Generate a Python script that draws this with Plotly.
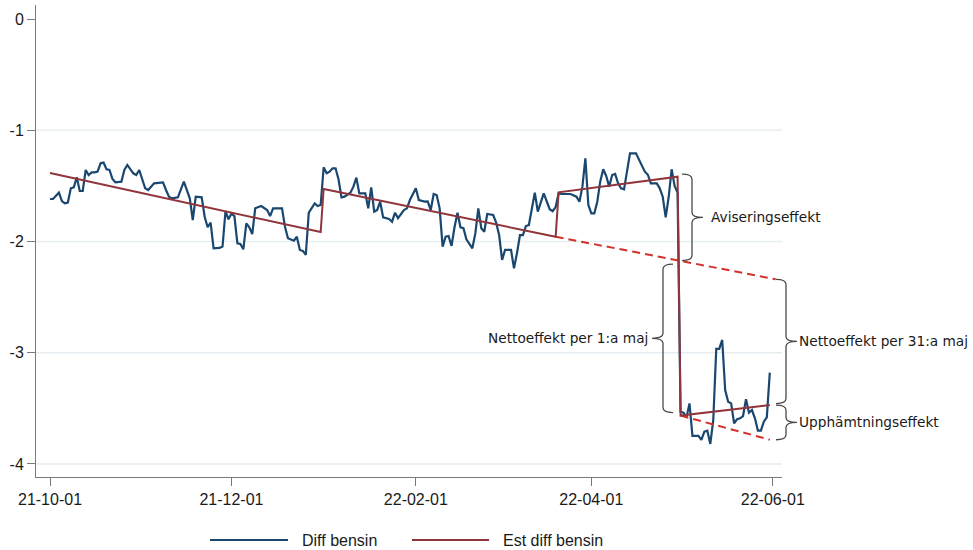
import plotly.graph_objects as go
import pandas as pd

# ---- data -----------------------------------------------------------------
START = "2021-10-01"

# Daily difference in petrol price, days counted from START
diff_day = [0, 1, 3, 4, 5, 6, 7, 8, 9, 10, 11, 12, 13, 14, 15, 16, 17, 18, 19, 20,
            21, 22, 24, 25, 26, 28, 29, 30, 32, 33, 35, 38, 39, 40, 41, 43, 45, 47, 48, 49,
            51, 52, 53, 54, 55, 57, 58, 59, 60, 61, 62, 63, 64, 65, 66, 67, 68, 69, 71, 73,
            74, 75, 78, 79, 80, 82, 83, 84, 85, 86, 87, 88, 89, 90, 91, 92, 93, 94, 95, 96,
            97, 98, 99, 101, 102, 103, 104, 106, 107, 108, 109, 110, 111, 112, 114, 115, 116, 117, 119, 120,
            121, 123, 124, 126, 127, 128, 129, 130, 131, 132, 133, 134, 135, 136, 137, 138, 139, 140, 142, 143,
            144, 145, 146, 147, 149, 150, 151, 152, 153, 155, 156, 157, 158, 159, 160, 161, 163, 164, 165, 166,
            168, 169, 170, 171, 172, 175, 177, 178, 179, 180, 181, 182, 183, 184, 185, 186, 187, 188, 189, 190,
            191, 192, 193, 194, 195, 197, 198, 200, 201, 202, 204, 205, 206, 207, 208, 209, 210, 211, 212, 213,
            214, 215, 216, 218, 219, 220, 221, 222, 223, 224, 225, 226, 227, 228, 229, 230, 231, 232, 233, 234,
            235, 236, 237, 238, 239, 240, 241, 242]
diff_bensin = [-1.618, -1.618, -1.561, -1.636, -1.657, -1.650, -1.522, -1.513, -1.423, -1.546,
               -1.546, -1.357, -1.402, -1.378, -1.378, -1.372, -1.297, -1.291, -1.351, -1.357,
               -1.438, -1.468, -1.462, -1.357, -1.312, -1.387, -1.402, -1.357, -1.522, -1.537,
               -1.477, -1.468, -1.537, -1.597, -1.612, -1.603, -1.462, -1.612, -1.807, -1.597,
               -1.603, -1.777, -1.872, -1.831, -2.061, -2.058, -2.045, -1.728, -1.800, -1.750,
               -1.771, -2.016, -2.022, -2.070, -1.837, -1.872, -1.933, -1.702, -1.681, -1.717,
               -1.771, -1.702, -1.702, -1.867, -1.971, -1.993, -1.957, -2.076, -2.085, -2.121,
               -1.741, -1.702, -1.657, -1.681, -1.672, -1.333, -1.387, -1.372, -1.342, -1.342,
               -1.441, -1.603, -1.597, -1.561, -1.507, -1.426, -1.567, -1.567, -1.702, -1.513,
               -1.732, -1.717, -1.642, -1.783, -1.797, -1.822, -1.741, -1.790, -1.717, -1.702,
               -1.627, -1.522, -1.627, -1.642, -1.640, -1.717, -1.573, -1.582, -1.702, -2.046,
               -1.957, -1.951, -2.040, -1.872, -1.741, -1.872, -1.880, -1.981, -2.061, -1.927,
               -1.702, -1.881, -1.912, -1.753, -1.762, -1.831, -1.942, -2.166, -2.076, -2.076,
               -2.241, -2.106, -1.942, -1.942, -1.861, -1.852, -1.561, -1.732, -1.657, -1.567,
               -1.710, -1.728, -1.690, -1.567, -1.573, -1.573, -1.597, -1.642, -1.507, -1.252,
               -1.672, -1.747, -1.747, -1.642, -1.460, -1.351, -1.411, -1.507, -1.402, -1.393,
               -1.477, -1.522, -1.531, -1.387, -1.207, -1.207, -1.267, -1.372, -1.400, -1.477,
               -1.477, -1.522, -1.597, -1.783, -1.600, -1.351, -1.500, -1.561, -3.530, -3.539,
               -3.581, -3.455, -3.748, -3.748, -3.784, -3.709, -3.700, -3.820, -3.604, -2.966,
               -2.966, -2.885, -3.335, -3.440, -3.455, -3.634, -3.598, -3.589, -3.569, -3.418,
               -3.539, -3.515, -3.589, -3.700, -3.700, -3.620, -3.581, -3.179]

# Estimated (piecewise linear) difference
est_day = [0, 91, 92, 170, 171, 211, 212, 242]
est_diff_bensin = [-1.384, -1.915, -1.528, -1.957, -1.558, -1.417, -3.565, -3.470]

# Counterfactual trend extensions (dashed)
trend_day = [170, 244]
trend_diff = [-1.957, -2.340]
trend2_day = [212, 242]
trend2_diff = [-3.565, -3.782]

x_tick_dates = ["2021-10-01", "2021-12-01", "2022-02-01", "2022-04-01", "2022-06-01"]
x_tick_text = ["21-10-01", "21-12-01", "22-02-01", "22-04-01", "22-06-01"]
y_tick_vals = [0, -1, -2, -3, -4]
y_tick_text = ["0", "-1", "-2", "-3", "-4"]

label_avisering = "Aviseringseffekt"
label_netto1 = "Nettoeffekt per 1:a maj"
label_netto31 = "Nettoeffekt per 31:a maj"
label_upph = "Upphämtningseffekt"
legend_names = ["Diff bensin", "Est diff bensin"]

# ---- styling ----------------------------------------------------------------
BLUE = "#1a476f"
MAROON = "#90353b"
RED = "#d3312b"
GRID = "#e6eef1"
AXIS = "#7a7a7a"
TEXT = "#1a1a1a"
BRACE = "#4a4a4a"

W, H = 973, 550
M_L, M_R, M_T, M_B = 36, 191, 5, 73
PW, PH = W - M_L - M_R, H - M_T - M_B
Y_MIN, Y_MAX = -4.117, 0.126
X_RANGE = ["2021-09-26 07:00", "2022-06-04 02:30"]

start = pd.Timestamp(START)


def to_dates(days):
    return [start + pd.Timedelta(days=d) for d in days]


def px_x(px):
    """Horizontal pixel -> paper coordinate."""
    return (px - M_L) / PW


def val_y(v, dpx=0.0):
    """Data value -> paper coordinate, optionally nudged by dpx pixels (down is +)."""
    return (v - Y_MIN) / (Y_MAX - Y_MIN) - dpx / PH


def lerp(d, d0, d1, v0, v1):
    return v0 + (v1 - v0) * (d - d0) / (d1 - d0)


fig = go.Figure()

fig.add_trace(go.Scatter(x=to_dates(diff_day), y=diff_bensin, mode="lines",
                         line=dict(color=BLUE, width=2.2), name=legend_names[0],
                         showlegend=False))
fig.add_trace(go.Scatter(x=to_dates(trend_day), y=trend_diff, mode="lines",
                         line=dict(color=RED, width=2, dash="8px,5px"),
                         showlegend=False, hoverinfo="skip"))
fig.add_trace(go.Scatter(x=to_dates(trend2_day), y=trend2_diff, mode="lines",
                         line=dict(color=RED, width=2, dash="8px,5px"),
                         showlegend=False, hoverinfo="skip"))
fig.add_trace(go.Scatter(x=to_dates(est_day), y=est_diff_bensin, mode="lines",
                         line=dict(color=MAROON, width=2), name=legend_names[1],
                         showlegend=False))

shapes = []
# horizontal grid lines
for v in y_tick_vals[1:]:
    shapes.append(dict(type="line", xref="paper", yref="paper", x0=0, x1=1,
                       y0=val_y(v), y1=val_y(v), layer="below",
                       line=dict(color=GRID, width=1.3)))


def brace(xv_px, v_top, v_bot, facing, gap_top=0.0, gap_bot=0.0, hook=10, tip=11):
    """Curly bracket between two values; facing=+1 points right, -1 points left."""
    yt = val_y(v_top, gap_top)
    yb = val_y(v_bot, -gap_bot)
    ym = (yt + yb) / 2
    r = 5 / PH
    xv = px_x(xv_px)
    xh = px_x(xv_px - facing * hook)
    xt = px_x(xv_px + facing * tip)
    path = (f"M{xh},{yt} Q{xv},{yt} {xv},{yt - r} L{xv},{ym + r} "
            f"Q{xv},{ym} {xt},{ym} Q{xv},{ym} {xv},{ym - r} "
            f"L{xv},{yb + r} Q{xv},{yb} {xh},{yb}")
    shapes.append(dict(type="path", xref="paper", yref="paper", path=path,
                       line=dict(color=BRACE, width=1.3)))
    return ym


# values the brackets span
drop_day = (est_day[5] + est_day[6]) / 2
trend_at_drop = lerp(drop_day, trend_day[0], trend_day[1], trend_diff[0], trend_diff[1])
pre_cut = est_diff_bensin[5]
post_cut = est_diff_bensin[6]
est_end = est_diff_bensin[-1]
trend_end = trend_diff[-1]
trend2_end = trend2_diff[-1]

ym1 = brace(692, pre_cut, trend_at_drop, +1, gap_top=-2.5)
ym2 = brace(663, trend_at_drop, post_cut, -1, gap_top=3.5, gap_bot=3)
ym3 = brace(786, trend_end, est_end, +1, gap_bot=1.5)
ym4 = brace(786, est_end, trend2_end, +1)

annotations = [
    dict(text=label_avisering, x=px_x(709), y=ym1, xanchor="left"),
    dict(text=label_netto1, x=px_x(650), y=ym2, xanchor="right"),
    dict(text=label_netto31, x=px_x(797), y=ym3, xanchor="left"),
    dict(text=label_upph, x=px_x(797), y=ym4, xanchor="left"),
]
for a in annotations:
    a.update(xref="paper", yref="paper", yanchor="middle", showarrow=False,
             font=dict(family="DejaVu Sans", size=13.7, color=TEXT))

# legend drawn below the plot area
leg_y = (M_T + PH - 540) / PH
for (x0, x1, tx), col, name in zip([(210, 288, 300), (412, 489, 501)],
                                  [BLUE, MAROON], legend_names):
    shapes.append(dict(type="line", xref="paper", yref="paper",
                       x0=px_x(x0), x1=px_x(x1), y0=leg_y, y1=leg_y,
                       line=dict(color=col, width=2)))
    annotations.append(dict(text=name, xref="paper", yref="paper", x=px_x(tx), y=leg_y,
                            xanchor="left", yanchor="middle", showarrow=False,
                            font=dict(family="Liberation Sans, Arial", size=16, color=TEXT)))

fig.update_layout(
    width=W, height=H,
    margin=dict(l=M_L, r=M_R, t=M_T, b=M_B),
    paper_bgcolor="white", plot_bgcolor="white",
    showlegend=False,
    shapes=shapes, annotations=annotations,
    font=dict(family="Liberation Sans, Arial", size=16, color=TEXT),
)
fig.update_xaxes(type="date", range=X_RANGE, tickvals=to_dates([0, 61, 123, 182, 243]),
                 ticktext=x_tick_text, showgrid=False, zeroline=False,
                 showline=True, linecolor=AXIS, linewidth=1,
                 ticks="outside", ticklen=8, tickcolor=AXIS, tickwidth=1,
                 tickfont=dict(size=16, color=TEXT))
fig.update_yaxes(range=[Y_MIN, Y_MAX], tickvals=y_tick_vals, ticktext=y_tick_text,
                 showgrid=False, zeroline=False,
                 showline=True, linecolor=AXIS, linewidth=1,
                 ticks="outside", ticklen=8, tickcolor=AXIS, tickwidth=1,
                 tickfont=dict(size=16, color=TEXT))

fig.write_html("out.html")
